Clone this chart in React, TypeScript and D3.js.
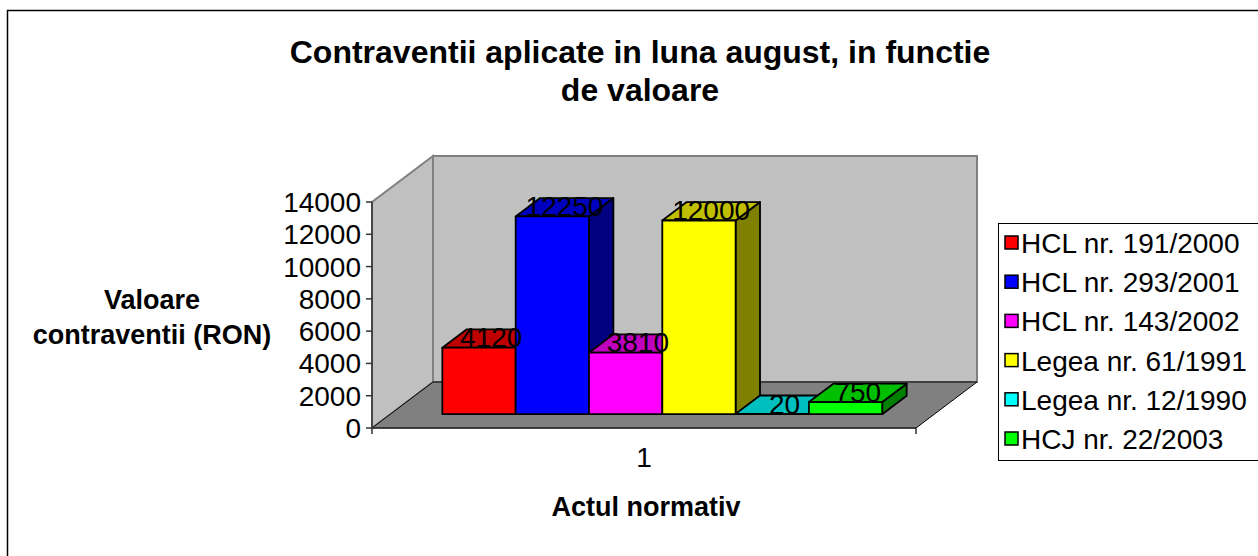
import * as d3 from "d3";
import React from "react";

const width = 1258;
const height = 556;

const series = [
  "HCL nr. 191/2000",
  "HCL nr. 293/2001",
  "HCL nr. 143/2002",
  "Legea nr. 61/1991",
  "Legea nr. 12/1990",
  "HCJ nr. 22/2003",
];
const values = [4120, 12250, 3810, 12000, 20, 750];
const colors = ["#ff0000", "#0000ff", "#ff00ff", "#ffff00", "#00ffff", "#00ff00"];
const yTicks = [0, 2000, 4000, 6000, 8000, 10000, 12000, 14000];
const categories = ["1"];

const font = "'Liberation Sans', Arial, sans-serif";

// plot frame (front-left-bottom corner + depth vector)
const x0 = 372;
const y0 = 428;
const plotW = 544;
const plotH = 226;
const depthX = 61;
const depthY = 46;
const zFront = 0.3;
const zBack = 0.7;

const y = d3.scaleLinear().domain([0, 14000]).range([0, plotH]);
const x = d3.scaleBand().domain(series).range([0, plotW]).paddingInner(0).paddingOuter(0.71);

const pt = (px: number, v: number, z: number): [number, number] => [
  x0 + px + z * depthX,
  y0 - y(v) - z * depthY,
];
const poly = (pts: [number, number][]) => "M" + pts.map((p) => p.join(",")).join("L") + "Z";

const shade = (c: string, k: number) => {
  const r = d3.rgb(c);
  return d3.rgb(r.r * k, r.g * k, r.b * k).formatHex();
};

const App = () => {
  const bars = series.map((s, i) => {
    const l = x(s)!;
    const r = l + x.bandwidth();
    const v = values[i];
    const front = poly([pt(l, 0, zFront), pt(r, 0, zFront), pt(r, v, zFront), pt(l, v, zFront)]);
    const top = poly([pt(l, v, zFront), pt(r, v, zFront), pt(r, v, zBack), pt(l, v, zBack)]);
    const side = poly([pt(r, 0, zFront), pt(r, 0, zBack), pt(r, v, zBack), pt(r, v, zFront)]);
    const [lx, ly] = pt((l + r) / 2, v, (zFront + zBack) / 2);
    return { s, i, v, front, top, side, lx, ly };
  });

  return (
    <svg width={width} height={height} style={{ position: "absolute", left: 0, top: 0, background: "#fff" }}>
      <rect x={7.5} y={10.5} width={1300} height={600} fill="#fff" stroke="#000" strokeWidth={1.5} />
      <g fontFamily={font} fontWeight="bold" fontSize={32} textAnchor="middle" fill="#000">
        <text x={640} y={63}>Contraventii aplicate in luna august, in functie</text>
        <text x={640} y={101}>de valoare</text>
      </g>
      {/* walls */}
      <path
        d={poly([pt(0, 0, 0), pt(0, 0, 1), pt(0, 14000, 1), pt(0, 14000, 0)])}
        fill="#c0c0c0"
        stroke="#808080"
        strokeWidth={2}
      />
      <path
        d={poly([pt(0, 0, 1), pt(plotW, 0, 1), pt(plotW, 14000, 1), pt(0, 14000, 1)])}
        fill="#c0c0c0"
        stroke="#808080"
        strokeWidth={2}
      />
      <path
        d={poly([pt(0, 0, 0), pt(plotW, 0, 0), pt(plotW, 0, 1), pt(0, 0, 1)])}
        fill="#808080"
        stroke="#000"
        strokeWidth={1}
      />
      {/* axes */}
      <line x1={x0} x2={x0} y1={y0 - plotH} y2={y0 + 6} stroke="#333" strokeWidth={1.5} />
      <line x1={x0} x2={x0 + plotW} y1={y0} y2={y0} stroke="#333" strokeWidth={1.5} />
      <line x1={x0 + plotW} x2={x0 + plotW} y1={y0} y2={y0 + 6} stroke="#333" strokeWidth={1.5} />
      <g fontFamily={font} fontSize={28} fill="#000">
        {yTicks.map((t) => (
          <g key={t}>
            <line x1={x0 - 6} x2={x0} y1={y0 - y(t)} y2={y0 - y(t)} stroke="#333" strokeWidth={1.5} />
            <text x={x0 - 11} y={y0 - y(t) + 10}>
              <tspan textAnchor="end">{t}</tspan>
            </text>
          </g>
        ))}
        {categories.map((c) => (
          <text key={c} x={x0 + plotW / 2} y={467} textAnchor="middle">
            {c}
          </text>
        ))}
      </g>
      {/* bars */}
      {bars.map((b) => (
        <g key={b.s} stroke="#000" strokeWidth={1.8} strokeLinejoin="round">
          <path d={b.side} fill={shade(colors[b.i], 0.5)} />
          <path d={b.top} fill={shade(colors[b.i], 0.75)} />
          <path d={b.front} fill={colors[b.i]} />
        </g>
      ))}
      <g fontFamily={font} fontSize={28} textAnchor="middle" fill="#000">
        {bars.map((b) => (
          <text key={b.s} x={b.lx} y={b.ly + 9}>
            {b.v}
          </text>
        ))}
      </g>
      {/* axis titles */}
      <g fontFamily={font} fontWeight="bold" fontSize={27} textAnchor="middle" fill="#000">
        <text x={152} y={309}>Valoare</text>
        <text x={152} y={344}>contraventii (RON)</text>
        <text x={646} y={516}>Actul normativ</text>
      </g>
      {/* legend */}
      <rect x={998.5} y={223.5} width={300} height={237} fill="#fff" stroke="#000" strokeWidth={1} />
      <g fontFamily={font} fontSize={28} fill="#000">
        {series.map((s, i) => {
          const cy = 243 + i * 39.2;
          return (
            <g key={s}>
              <rect x={1005} y={cy - 7} width={13} height={13} fill={colors[i]} stroke="#000" strokeWidth={1.5} />
              <text x={1021} y={cy + 10}>
                {s}
              </text>
            </g>
          );
        })}
      </g>
    </svg>
  );
};

export default App;
